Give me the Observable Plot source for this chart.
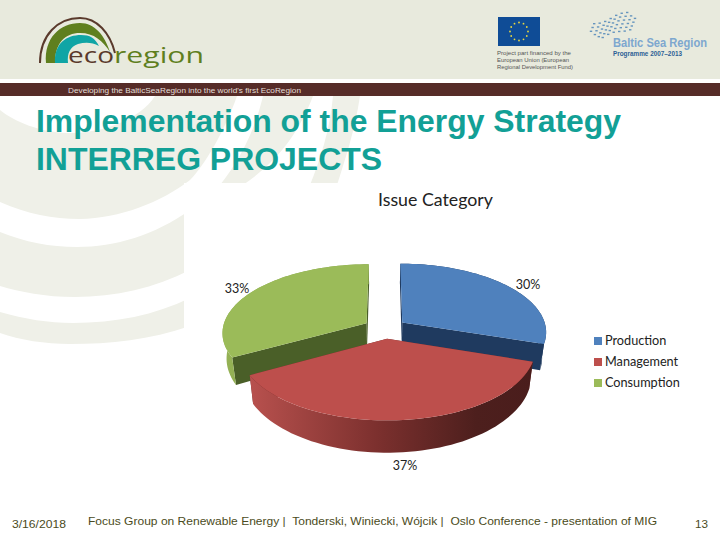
<!DOCTYPE html>
<html>
<head>
<meta charset="utf-8">
<script src="https://cdn.jsdelivr.net/npm/d3@7"></script>
<script src="https://cdn.jsdelivr.net/npm/@observablehq/plot@0.6"></script>
<style>
html,body{margin:0;padding:0;background:#fff}
#stage{position:relative;width:720px;height:540px;overflow:hidden}
#stage>svg{position:absolute;left:0;top:0}
#legend{position:absolute;left:594px;top:330px;font:12.7px/21px Lato,sans-serif;color:#222}
#legend div{height:21px;white-space:nowrap}
#legend i{display:inline-block;width:8px;height:8px;margin-right:3px}
</style>
</head>
<body>
<div id="stage">
<svg id="deco" width="720" height="540" viewBox="0 0 720 540">
  <!-- slide background -->
  <rect width="720" height="79" fill="#e8eadd"/>
  <g fill="#eff0e8">
    <path d="M155,96 C140,120 100,134 67,133 C40,132 15,122 0,110 L0,202 C28,214 52,219 80,219 C120,218 160,203 190,180 C205,165 225,130 237,96 Z"/>
    <path d="M0,232 C25,242 50,247 77,247 C115,247 155,235 190,210 L190,270 C155,288 115,297 75,297 C45,297 20,292 0,286 Z"/>
    <path d="M0,312 C25,319 48,323 73,323 C115,323 155,315 190,298 L190,326 C150,340 110,344 70,344 C45,344 20,340 0,333 Z"/>
    <path d="M263,96 L313,96 C300,130 280,160 243,185 L220,185 C240,160 255,130 263,96 Z"/>
    <path d="M333,96 L360,96 C355,130 345,160 337,185 L310,185 C320,160 330,130 333,96 Z"/>
  </g>
  <rect x="184" y="183" width="536" height="357" fill="#fff"/>
  <rect y="83" width="720" height="13" fill="#562c28"/>
  <text x="68" y="92.6" font-family="Liberation Sans" font-size="7.5" fill="#e4dfd8" textLength="233" lengthAdjust="spacingAndGlyphs">Developing the BalticSeaRegion into the world's first EcoRegion</text>

  <!-- ecoregion logo -->
  <path d="M40,63 C40,35 58,18 80,18 C97,18 110,33 115,53" fill="none" stroke="#5a3a2c" stroke-width="2"/>
  <path d="M46,63 C44,38 60,23 80,23 C95,23 105,36 110,52 C103,41 94,33 80,33 C65,33 55,43 55,63 Z" fill="#5f7f1e"/>
  <path d="M55,63 C54,43 67,35 81,35 C90,35 95,38 99,46 C92,42 85,42 78,44 C70,47 67,53 68,63 Z" fill="#10a5a5"/>
  <text x="68" y="63" font-family="Open Sans" font-size="22" fill="#5a3a2c" textLength="46" lengthAdjust="spacingAndGlyphs">eco</text>
  <text x="114" y="63" font-family="Open Sans" font-size="22" fill="#5f7f1e" textLength="90" lengthAdjust="spacingAndGlyphs">region</text>

  <!-- EU block -->
  <rect x="498" y="17" width="42" height="29" fill="#0f4c96"/>
  <g id="stars" fill="#e8d840"></g>
  <g font-family="Liberation Sans" font-size="5.6" fill="#555">
    <text x="497" y="55" textLength="74" lengthAdjust="spacingAndGlyphs">Project part financed by the</text>
    <text x="497" y="62" textLength="72" lengthAdjust="spacingAndGlyphs">European Union (European</text>
    <text x="497" y="69" textLength="76" lengthAdjust="spacingAndGlyphs">Regional Development Fund)</text>
  </g>
  <!-- Baltic Sea Region block -->
  <g id="waves" fill="#4f86b8"></g>
  <text x="613" y="47" font-family="Liberation Sans" font-size="12" font-weight="bold" fill="#7da7cf" textLength="94" lengthAdjust="spacingAndGlyphs">Baltic Sea Region</text>
  <text x="613" y="56" font-family="Liberation Sans" font-size="6.5" font-weight="bold" fill="#2d5f95" textLength="69" lengthAdjust="spacingAndGlyphs">Programme 2007–2013</text>

  <!-- slide title -->
  <g font-family="Liberation Sans" font-size="32" font-weight="bold" fill="#12a096">
    <text x="36" y="131.5" textLength="585" lengthAdjust="spacingAndGlyphs">Implementation of the Energy Strategy</text>
    <text x="36" y="169.5" textLength="346" lengthAdjust="spacingAndGlyphs">INTERREG PROJECTS</text>
  </g>

  <!-- slide footer -->
  <g font-family="Liberation Sans" font-size="11.5" fill="#4b4b22">
    <text x="12" y="528" textLength="54" lengthAdjust="spacingAndGlyphs">3/16/2018</text>
    <text x="88" y="525" xml:space="preserve" textLength="569" lengthAdjust="spacingAndGlyphs">Focus Group on Renewable Energy |  Tonderski, Winiecki, Wójcik |  Oslo Conference - presentation of MIG</text>
    <text x="695" y="528" textLength="13" lengthAdjust="spacingAndGlyphs">13</text>
  </g>
  <text x="378" y="206" font-family="Lato" font-size="16.5" fill="#222" textLength="115" lengthAdjust="spacingAndGlyphs">Issue Category</text>
</svg>
<div id="legend"></div>
</div>
<script>
// chart values
const categories = ["Production", "Management", "Consumption"];
const shares = [30, 37, 33];
const shareLabels = ["30%", "37%", "33%"];
const topColors = ["#4f81bd", "#bd4f4c", "#9bbb59"];
const faceColors = ["#1f3a5f", "#6b2a28", "#4a5f28"];
const rimColors = ["#1f3a5f", "url(#rimRed)", "url(#rimGreen)"];

// perspective of the 3-D pie
const view = {cx: 385, cy: 328.5, R: 144, Ry: 68, k: 0.13, explode: 0.15, lift: 25, lowX: 0.975, lowY: 1.08};
function project(u, v, low) {
  const s = 1 / (1 + view.k * v);
  return {
    x: view.cx + view.R * u * s * (low ? view.lowX : 1),
    y: view.cy - view.Ry * v * s * (low ? view.lowY : 1) + (low ? view.lift : 0)
  };
}

const arcs = d3.pie().sort(null)(shares);
const slices = arcs.map((a, i) => {
  const mid = (a.startAngle + a.endAngle) / 2;
  const ox = view.explode * Math.sin(mid), oy = view.explode * Math.cos(mid);
  const n = 60, rim = d3.range(n + 1).map(j => {
    const th = a.startAngle + (a.endAngle - a.startAngle) * j / n;
    const p = project(ox + Math.sin(th), oy + Math.cos(th), false);
    const q = project(ox + Math.sin(th), oy + Math.cos(th), true);
    return {x1: p.x, y1: p.y, x2: q.x, y2: q.y};
  });
  const apex = project(ox, oy, false), apexLow = project(ox, oy, true);
  const top = rim.map(r => ({x1: r.x1, y1: r.y1, x2: apex.x, y2: apex.y}));
  const face = [rim[0], {x1: apex.x, y1: apex.y, x2: apexLow.x, y2: apexLow.y}, rim[n]];
  return {i, mid, ox, oy, rim, top, face};
});

const area = (rows, fill) => Plot.area(rows, {x1: "x1", y1: "y1", x2: "x2", y2: "y2", fill});
const drawSlice = s => [
  area(s.face.slice(0, 2), faceColors[s.i]),
  area(s.face.slice(1), faceColors[s.i]),
  area(s.rim, rimColors[s.i]),
  area(s.top, topColors[s.i])
];

const labelReach = [1.2, 1.07, 1.15];
const labelDrop = [5, 39, 1];
const labelRows = slices.map(s => {
  const r = labelReach[s.i];
  const p = project(s.ox + r * Math.sin(s.mid), s.oy + r * Math.cos(s.mid), false);
  return {x: p.x, y: p.y + labelDrop[s.i], text: shareLabels[s.i]};
});

const defs = () => {
  const d = d3.create("svg:defs");
  const grad = (id, stops) => {
    const g = d.append("linearGradient").attr("id", id);
    stops.forEach(([o, c]) => g.append("stop").attr("offset", o).attr("stop-color", c));
  };
  grad("rimRed", [[0, "#b8514e"], [0.45, "#7c302e"], [0.8, "#4d1f1d"], [1, "#4a1d1c"]]);
  grad("rimGreen", [[0, "#95b255"], [1, "#7e9a47"]]);
  return d.node();
};

const chart = Plot.plot({
  width: 720, height: 540, margin: 0,
  x: {domain: [0, 720], axis: null},
  y: {domain: [540, 0], axis: null},
  style: {background: "transparent", fontFamily: "Lato"},
  marks: [
    defs,
    ...drawSlice(slices[0]),
    ...drawSlice(slices[2]),
    ...drawSlice(slices[1]),
    Plot.text(labelRows, {x: "x", y: "y", text: "text", fontSize: 12.5, fill: "#222"})
  ]
});
document.getElementById("stage").insertBefore(chart, document.getElementById("legend"));

// legend
d3.select("#legend").selectAll("div").data(categories).join("div")
  .html((d, i) => `<i style="background:${topColors[i]}"></i>${d}`);

// decorative stars and wave dots of the header logos
d3.select("#stars").selectAll("circle").data(d3.range(12)).join("circle")
  .attr("cx", i => 519 + 9 * Math.cos(i * Math.PI / 6))
  .attr("cy", i => 31.5 + 9 * Math.sin(i * Math.PI / 6)).attr("r", 0.9);
const dots = d3.cross(d3.range(9), d3.range(6));
d3.select("#waves").selectAll("rect").data(dots).join("rect")
  .attr("x", ([a, b]) => 585 + a * 5.5 + b * 1.6)
  .attr("y", ([a, b]) => 42 - a * 1.8 - b * 3.8 + Math.sin(a) * 1.5)
  .attr("width", 2.4).attr("height", 1.4)
  .attr("opacity", ([a, b]) => (a + b < 3 || a + b > 11) ? 0 : 0.85);
</script>
</body>
</html>
